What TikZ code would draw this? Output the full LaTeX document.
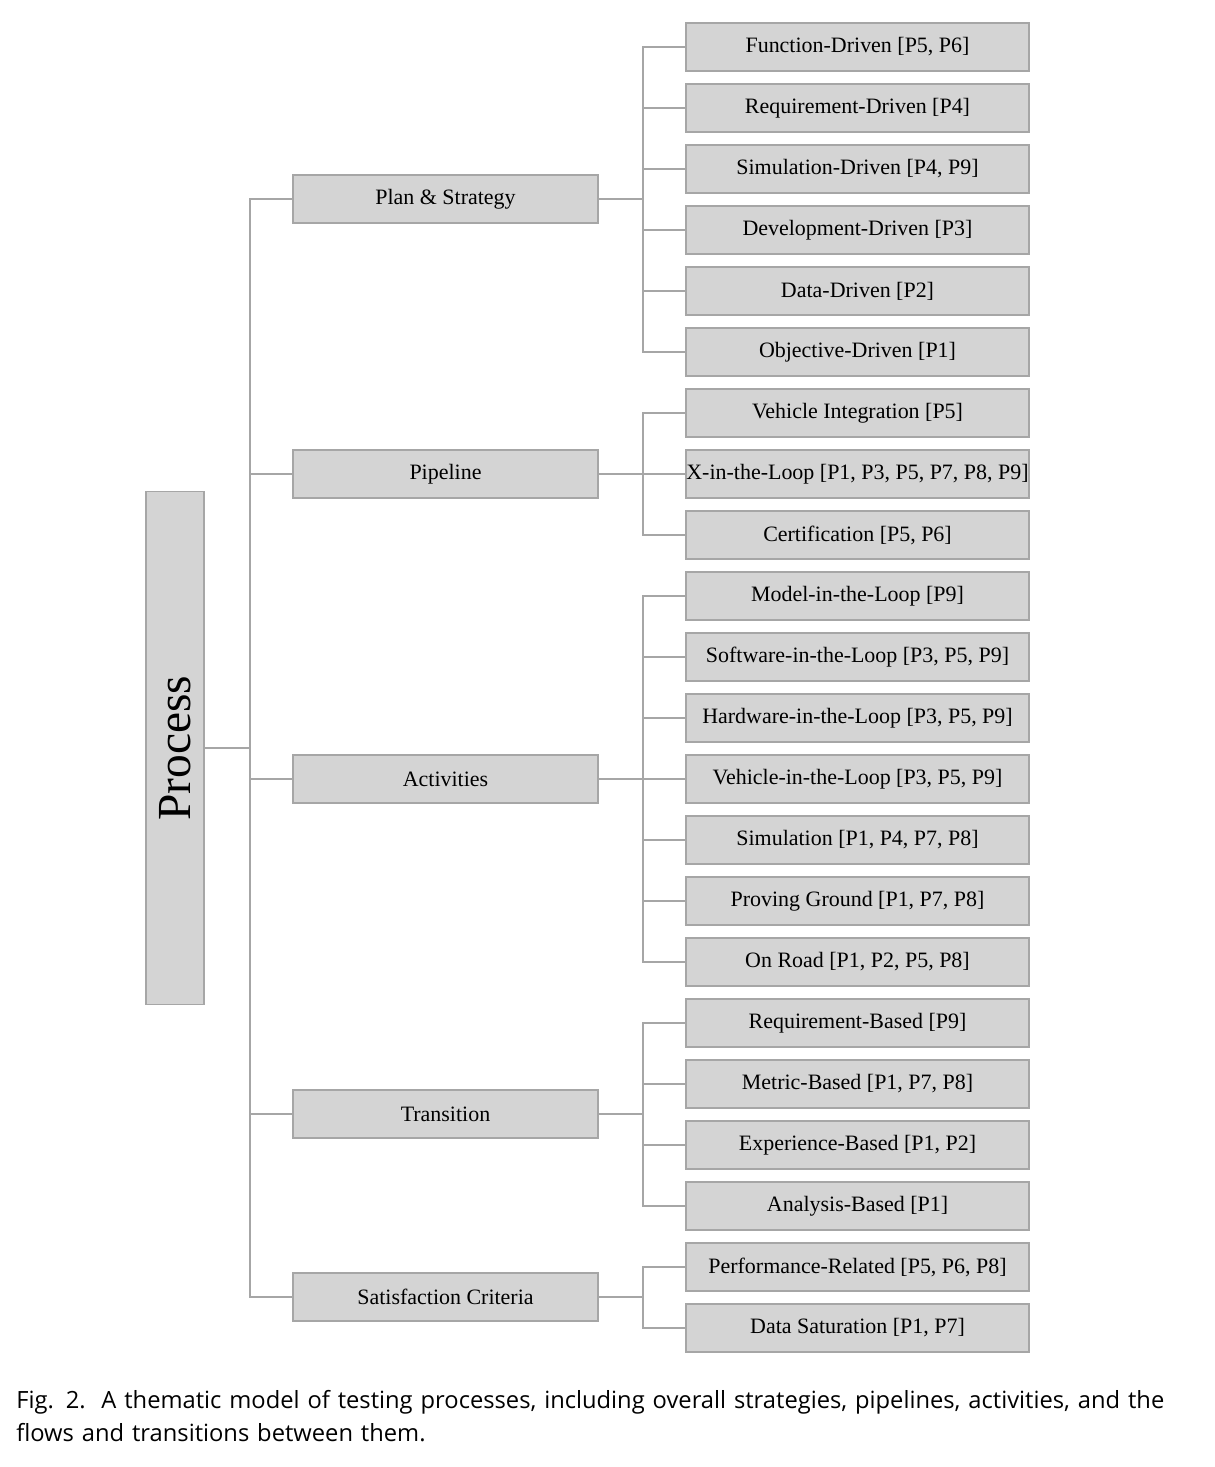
\documentclass[tikz,border=0pt]{standalone}
\usepackage{fontspec}
\setmainfont{Liberation Serif}
\newfontfamily\capfont{Open Sans}
\usetikzlibrary{positioning}

\tikzset{
  box/.style={draw=black!35, fill=black!17, line width=1pt, minimum height=48*0.02cm, inner sep=0pt, font=\fontsize{12.5}{14}\selectfont},
  leaf/.style={box, minimum width=343*0.02cm},
  mid/.style={box, minimum width=305*0.02cm},
  link/.style={draw=black!35, line width=1pt}
}

\begin{document}
\begin{tikzpicture}[x=0.02cm, y=-0.02cm]
  \useasboundingbox (0,0) rectangle (1214,1467);

  % root
  \node[box, minimum width=513*0.02cm, minimum height=58*0.02cm, rotate=90, font=\fontsize{27}{30}\selectfont] (process) at (175,748) {Process};

  % second level
  \node[mid] (plan) at (445.5,199) {Plan \& Strategy};
  \node[mid] (pipe) at (445.5,474) {Pipeline};
  \node[mid] (act) at (445.5,779) {Activities};
  \node[mid] (trans) at (445.5,1114) {Transition};
  \node[mid] (sat) at (445.5,1297) {Satisfaction Criteria};

  % leaves
  \foreach \name/\i/\txt in {
    f1/0/{Function-Driven [P5, P6]},
    f2/1/{Requirement-Driven [P4]},
    f3/2/{Simulation-Driven [P4, P9]},
    f4/3/{Development-Driven [P3]},
    f5/4/{Data-Driven [P2]},
    f6/5/{Objective-Driven [P1]},
    p1/6/{Vehicle Integration [P5]},
    p2/7/{X-in-the-Loop [P1, P3, P5, P7, P8, P9]},
    p3/8/{Certification [P5, P6]},
    a1/9/{Model-in-the-Loop [P9]},
    a2/10/{Software-in-the-Loop [P3, P5, P9]},
    a3/11/{Hardware-in-the-Loop [P3, P5, P9]},
    a4/12/{Vehicle-in-the-Loop [P3, P5, P9]},
    a5/13/{Simulation [P1, P4, P7, P8]},
    a6/14/{Proving Ground [P1, P7, P8]},
    a7/15/{On Road [P1, P2, P5, P8]},
    t1/16/{Requirement-Based [P9]},
    t2/17/{Metric-Based [P1, P7, P8]},
    t3/18/{Experience-Based [P1, P2]},
    t4/19/{Analysis-Based [P1]},
    s1/20/{Performance-Related [P5, P6, P8]},
    s2/21/{Data Saturation [P1, P7]}}
    \node[leaf] (\name) at (857.5,47+61*\i) {\txt};

  % trunk
  \draw[link] (process.south) -- (249,748);
  \foreach \m in {plan,pipe,act,trans,sat}
    \draw[link] (process.south) ++(45,0) |- (\m.west);

  % branches
  \foreach \m/\list in {plan/{f1,f2,f3,f4,f5,f6}, pipe/{p1,p2,p3},
                        act/{a1,a2,a3,a4,a5,a6,a7}, trans/{t1,t2,t3,t4}, sat/{s1,s2}}
    \foreach \l in \list
      \draw[link] (\m.east) -- ++(44,0) |- (\l.west);

  % caption
  \node[anchor=north west, align=left, text width=1190*0.02cm, inner sep=0pt,
        font=\capfont\fontsize{13.5}{18.5}\selectfont] (cap) at (16,1390)
    {Fig. 2.\ \ A thematic model of testing processes, including overall strategies, pipelines, activities, and the flows and transitions between them.};
\end{tikzpicture}
\end{document}
